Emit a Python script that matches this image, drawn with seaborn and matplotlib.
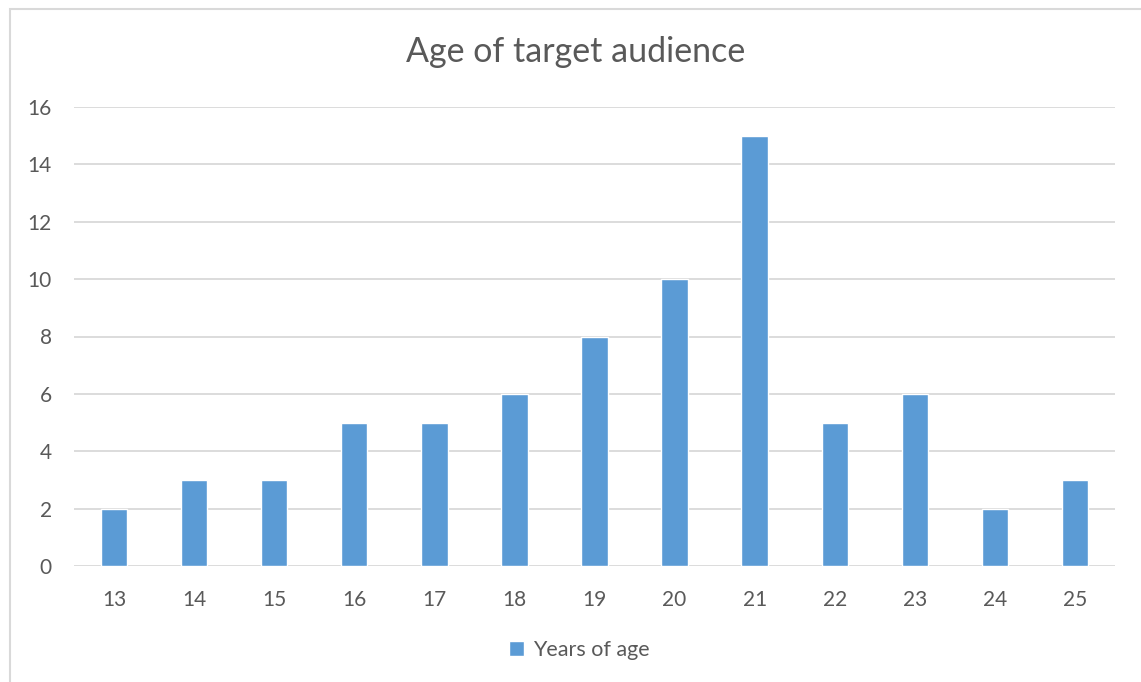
import matplotlib
matplotlib.use("Agg")
import matplotlib.pyplot as plt
import seaborn as sns
import pandas as pd
from matplotlib.patches import Rectangle

ages = ["13", "14", "15", "16", "17", "18", "19", "20", "21", "22", "23", "24", "25"]
counts = [2, 3, 3, 5, 5, 6, 8, 10, 15, 5, 6, 2, 3]
yticks = [0, 2, 4, 6, 8, 10, 12, 14, 16]
title = "Age of target audience"
series_name = "Years of age"

sns.set_theme(style="white")
plt.rcParams['font.family'] = ['Lato', 'DejaVu Sans']

txt = "#595959"
bar_color = "#5B9BD5"
grid = "#D9D9D9"

fig = plt.figure(figsize=(11.41, 6.82), dpi=100)
ax = fig.add_axes([74/1141, 1-566/682, (1115-74)/1141, (566-107)/682])

df = pd.DataFrame({"age": ages, "count": counts})
sns.barplot(data=df, x="age", y="count", color=bar_color, width=0.33, saturation=1,
            ax=ax, label=series_name)

ax.set_ylim(0, 16)
ax.set_xlim(-0.5, len(ages)-0.5)
ax.set_yticks(yticks)
ax.yaxis.grid(True, color=grid, linewidth=1.3)
ax.set_axisbelow(True)
for s in ax.spines.values():
    s.set_visible(False)
ax.tick_params(axis="both", length=0, labelsize=15, labelcolor=txt)
ax.tick_params(axis="y", pad=16)
ax.tick_params(axis="x", pad=17)
ax.set_xlabel("")
ax.set_ylabel("")

fig.text(576/1141, 1-52/682, title, ha="center", va="center", fontsize=24.5, color=txt)

leg = ax.legend(loc="center", bbox_to_anchor=((579-74)/1041, (566-650)/459), frameon=False,
                fontsize=15.5, labelcolor=txt, handlelength=0.7, handleheight=0.7,
                handletextpad=0.4)

fig.add_artist(Rectangle((10/1141, -0.01), 1.0, 1-9/682+0.01, transform=fig.transFigure,
                         fill=False, edgecolor=grid, linewidth=1.5))

fig.savefig("out.png", dpi=100)
